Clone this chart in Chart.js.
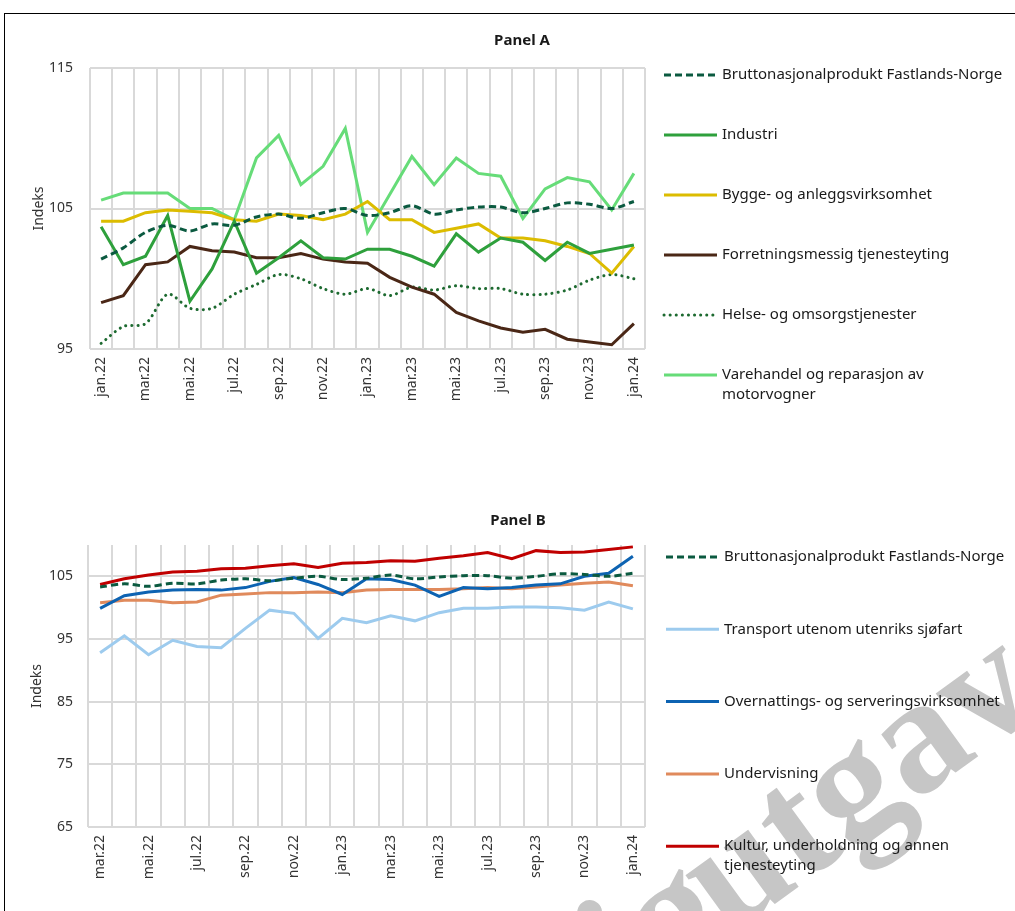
<!DOCTYPE html>
<html lang="no">
<head>
    <meta charset="UTF-8">
    <title>Panel A og B</title>
    <script src="https://cdn.jsdelivr.net/npm/chart.js"></script>
    <style>
        body {
            margin: 0;
            background: #ffffff;
            width: 1015px;
            height: 911px;
            overflow: hidden;
            position: relative;
            font-family: "Noto Sans", sans-serif;
        }
        #frame {
            position: absolute;
            left: 4px;
            top: 13px;
            width: 1020px;
            height: 920px;
            border-left: 1.5px solid #000;
            border-top: 1.5px solid #000;
        }
        canvas {
            position: absolute;
            left: 0;
        }
        #panelA { top: 0; }
        #panelB { top: 490px; }
    </style>
</head>
<body>
    <div id="frame"></div>
    <canvas id="panelA" width="1015" height="440"></canvas>
    <canvas id="panelB" width="1015" height="421"></canvas>

    <script>
        // Months
        const monthsA = ['jan.22', 'feb.22', 'mar.22', 'apr.22', 'mai.22', 'jun.22', 'jul.22', 'aug.22', 'sep.22', 'okt.22', 'nov.22', 'des.22',
                         'jan.23', 'feb.23', 'mar.23', 'apr.23', 'mai.23', 'jun.23', 'jul.23', 'aug.23', 'sep.23', 'okt.23', 'nov.23', 'des.23', 'jan.24'];
        const monthsB = monthsA.slice(2);

        const yTicksA = [95, 105, 115];
        const yTicksB = [65, 75, 85, 95, 105];

        // Panel A series
        const bnp        = [101.4, 102.2, 103.3, 103.8, 103.4, 103.9, 103.8, 104.4, 104.6, 104.3, 104.7, 105.0,
                            104.5, 104.7, 105.2, 104.6, 104.9, 105.1, 105.1, 104.7, 105.0, 105.4, 105.3, 105.0, 105.5];
        const industri   = [103.7, 101.0, 101.6, 104.5, 98.4, 100.7, 104.1, 100.4, 101.5, 102.7, 101.5, 101.4,
                            102.1, 102.1, 101.6, 100.9, 103.2, 101.9, 102.9, 102.6, 101.3, 102.6, 101.8, 102.1, 102.4];
        const bygg       = [104.1, 104.1, 104.7, 104.9, 104.8, 104.7, 104.2, 104.1, 104.6, 104.5, 104.2, 104.6,
                            105.5, 104.2, 104.2, 103.3, 103.6, 103.9, 102.9, 102.9, 102.7, 102.3, 101.8, 100.4, 102.3];
        const forretning = [98.3, 98.8, 101.0, 101.2, 102.3, 102.0, 101.9, 101.5, 101.5, 101.8, 101.4, 101.2,
                            101.1, 100.1, 99.4, 98.9, 97.6, 97.0, 96.5, 96.2, 96.4, 95.7, 95.5, 95.3, 96.8];
        const helse      = [95.4, 96.6, 96.8, 98.9, 97.9, 97.9, 98.9, 99.6, 100.3, 100.0, 99.3, 98.9,
                            99.3, 98.8, 99.4, 99.2, 99.5, 99.3, 99.3, 98.9, 98.9, 99.2, 99.9, 100.3, 100.0];
        const varehandel = [105.6, 106.1, 106.1, 106.1, 105.0, 105.0, 104.2, 108.6, 110.2, 106.7, 108.0, 110.7,
                            103.3, 106.0, 108.7, 106.7, 108.6, 107.5, 107.3, 104.3, 106.4, 107.2, 106.9, 104.9, 107.5];

        // Panel B series (from mar.22)
        const transport    = [92.8, 95.5, 92.5, 94.8, 93.8, 93.6, 96.7, 99.6, 99.1, 95.1, 98.3,
                              97.6, 98.7, 97.9, 99.2, 99.9, 99.9, 100.1, 100.1, 100.0, 99.6, 100.9, 99.8];
        const overnatting  = [99.9, 101.9, 102.5, 102.8, 102.9, 102.8, 103.2, 104.2, 104.8, 103.7, 102.1,
                              104.6, 104.5, 103.6, 101.8, 103.2, 103.0, 103.2, 103.6, 103.8, 105.0, 105.5, 108.2];
        const undervisning = [100.8, 101.2, 101.2, 100.8, 100.9, 102.0, 102.2, 102.4, 102.4, 102.5, 102.4,
                              102.8, 102.9, 102.9, 102.9, 103.0, 103.2, 103.0, 103.3, 103.6, 103.9, 104.1, 103.5];
        const kultur       = [103.7, 104.6, 105.2, 105.7, 105.8, 106.2, 106.3, 106.7, 107.0, 106.4, 107.1,
                              107.2, 107.5, 107.4, 107.9, 108.3, 108.8, 107.8, 109.1, 108.8, 108.9, 109.3, 109.7];

        const FONT = '"Noto Sans", sans-serif';
        const GRID = '#d9d9d9';

        // title, side legend and watermark drawn on the canvas
        const extras = {
            id: 'extras',
            beforeDraw(chart, args, opts) {
                if (!opts.watermark) return;
                const ctx = chart.ctx;
                const w = opts.watermark;
                ctx.save();
                ctx.translate(w.x, w.y);
                ctx.rotate(w.angle * Math.PI / 180);
                ctx.font = 'bold ' + w.size + 'px "Liberation Serif", serif';
                ctx.fillStyle = '#c6c6c6';
                ctx.textBaseline = 'alphabetic';
                ctx.textAlign = 'right';
                ctx.fillText('Foreløpig', -w.gap, 0);
                ctx.textAlign = 'left';
                ctx.fillText('utgave', 0, 0);
                ctx.restore();
            },
            afterDraw(chart, args, opts) {
                const ctx = chart.ctx;
                ctx.save();
                ctx.fillStyle = '#1a1a1a';
                ctx.font = 'bold 15px ' + FONT;
                ctx.textAlign = 'center';
                ctx.textBaseline = 'middle';
                ctx.fillText(opts.title, opts.titleX, opts.titleY);

                ctx.font = '15px ' + FONT;
                ctx.textAlign = 'left';
                chart.data.datasets.forEach((ds, k) => {
                    const y = opts.legendTop + k * opts.legendGap;
                    ctx.strokeStyle = ds.borderColor;
                    ctx.lineWidth = 3;
                    ctx.lineCap = ds.borderCapStyle || 'butt';
                    ctx.setLineDash(ds.borderDash || []);
                    ctx.beginPath();
                    ctx.moveTo(opts.legendX, y);
                    ctx.lineTo(opts.legendX + 53, y);
                    ctx.stroke();
                    ctx.fillStyle = '#1a1a1a';
                    ds.label.split('\n').forEach((line, j) => {
                        ctx.fillText(line, opts.legendX + 58, y + j * 20);
                    });
                });
                ctx.restore();
            }
        };

        function line(label, data, color, extra) {
            return Object.assign({
                label: label,
                data: data,
                borderColor: color,
                backgroundColor: color,
                borderWidth: 3,
                pointRadius: 0,
                tension: 0,
                fill: false
            }, extra || {});
        }
        const dashed = { borderDash: [7, 4], tension: 0.3 };
        const dotted = { borderDash: [0.1, 6], borderCapStyle: 'round', tension: 0.3 };

        function scales(yMin, yMax, yTicks, tickPad) {
            return {
                x: {
                    offset: true,
                    grid: { offset: true, color: GRID, lineWidth: 2, drawTicks: false },
                    border: { display: false },
                    afterFit: s => { s.height = 70; },
                    ticks: {
                        autoSkip: false, minRotation: 90, maxRotation: 90, padding: 8,
                        color: '#333', font: { size: 14, family: FONT },
                        callback: function (v, i) { return i % 2 === 0 ? this.getLabelForValue(v) : ''; }
                    }
                },
                y: {
                    min: yMin, max: yMax,
                    afterBuildTicks: axis => { axis.ticks = yTicks.map(v => ({ value: v })); },
                    afterFit: s => { s.width = 70; },
                    grid: { color: GRID, lineWidth: 2, drawTicks: false },
                    border: { display: false },
                    ticks: { padding: tickPad, color: '#333', font: { size: 14, family: FONT } },
                    title: { display: true, text: 'Indeks', color: '#333', font: { size: 14, family: FONT }, padding: { top: 11, bottom: 0 } }
                }
            };
        }

        new Chart(document.getElementById('panelA'), {
            type: 'line',
            data: {
                labels: monthsA,
                datasets: [
                    line('Bruttonasjonalprodukt Fastlands-Norge', bnp, '#0b5a40', dashed),
                    line('Industri', industri, '#2ea03c'),
                    line('Bygge- og anleggsvirksomhet', bygg, '#dcbc00'),
                    line('Forretningsmessig tjenesteyting', forretning, '#4a2716'),
                    line('Helse- og omsorgstjenester', helse, '#1d6a30', dotted),
                    line('Varehandel og reparasjon av\nmotorvogner', varehandel, '#66dc78')
                ]
            },
            options: {
                responsive: false,
                animation: false,
                layout: { padding: { left: 20, right: 370, top: 68, bottom: 21 } },
                scales: scales(95, 115, yTicksA, 17),
                plugins: {
                    legend: { display: false },
                    tooltip: { enabled: false },
                    extras: { title: 'Panel A', titleX: 522, titleY: 41, legendX: 664, legendTop: 75, legendGap: 60 }
                }
            },
            plugins: [extras]
        });

        new Chart(document.getElementById('panelB'), {
            type: 'line',
            data: {
                labels: monthsB,
                datasets: [
                    line('Bruttonasjonalprodukt Fastlands-Norge', bnp.slice(2), '#0b5a40', dashed),
                    line('Transport utenom utenriks sjøfart', transport, '#9dcbee'),
                    line('Overnattings- og serveringsvirksomhet', overnatting, '#0d63b2'),
                    line('Undervisning', undervisning, '#e08a5c'),
                    line('Kultur, underholdning og annen\ntjenesteyting', kultur, '#c00000')
                ]
            },
            options: {
                responsive: false,
                animation: false,
                layout: { padding: { left: 18, right: 370, top: 55, bottom: 14 } },
                scales: scales(65, 110, yTicksB, 15),
                plugins: {
                    legend: { display: false },
                    tooltip: { enabled: false },
                    extras: {
                        title: 'Panel B', titleX: 518, titleY: 31, legendX: 666, legendTop: 67, legendGap: 72.3,
                        watermark: { x: 728, y: 448, angle: -36, size: 165, gap: -8 }
                    }
                }
            },
            plugins: [extras]
        });
    </script>
</body>
</html>
